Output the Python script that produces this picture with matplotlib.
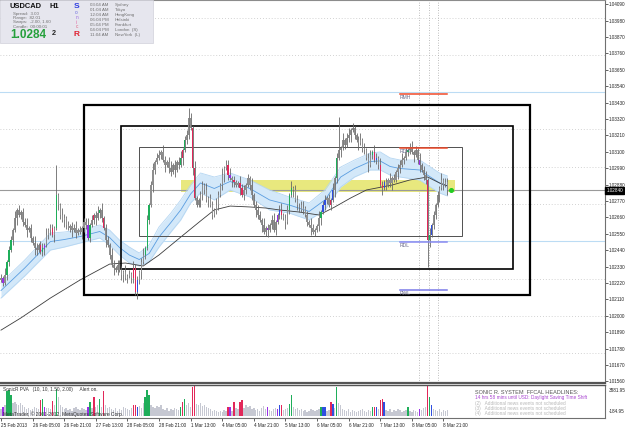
import numpy as np
import matplotlib.pyplot as plt
from matplotlib.patches import Rectangle

plt.rcParams['font.family'] = ['Liberation Sans', 'DejaVu Sans']

# USDCAD H1, 25 Feb 13:00 .. 8 Mar 2013, closes as 1e-5 above 1.0
close_pts = [
    2253, 2220, 2273, 2361, 2441, 2508, 2575, 2656, 2710, 2676,
    2696, 2629, 2609, 2575, 2589, 2522, 2488, 2455, 2441, 2475,
    2428, 2455, 2475, 2542, 2575, 2589, 2542, 2589, 2810, 2743,
    2676, 2643, 2656, 2609, 2589, 2602, 2575, 2589, 2555, 2575,
    2562, 2589, 2629, 2609, 2522, 2609, 2643, 2676, 2656, 2689,
    2710, 2656, 2589, 2508, 2475, 2408, 2341, 2320, 2307, 2341,
    2307, 2273, 2294, 2253, 2267, 2280, 2253, 2320, 2159, 2240,
    2294, 2361, 2408, 2455, 2643, 2743, 2877, 2978, 3032, 3059,
    3079, 3099, 3045, 3012, 3032, 2991, 2965, 3012, 2978, 3032,
    3012, 3059, 3112, 3179, 3213, 3327, 3260, 2991, 2790, 2743,
    2777, 2810, 2877, 2844, 2777, 2790, 2743, 2676, 2710, 2743,
    2810, 2877, 2944, 2991, 3012, 2944, 2924, 2911, 2897, 2877,
    2891, 2857, 2810, 2844, 2877, 2924, 2877, 2810, 2743, 2710,
    2676, 2643, 2609, 2562, 2589, 2575, 2609, 2643, 2575, 2629,
    2676, 2710, 2676, 2656, 2629, 2710, 2810, 2857, 2844, 2777,
    2743, 2743, 2710, 2723, 2676, 2629, 2609, 2589, 2562, 2575,
    2602, 2656, 2696, 2743, 2777, 2790, 2743, 2777, 2844, 2924,
    3059, 3112, 3126, 3179, 3146, 3193, 3213, 3246, 3260, 3213,
    3179, 3159, 3179, 3126, 3112, 3059, 3012, 3079, 3099, 3045,
    3059, 3012, 2877, 2857, 2897, 2877, 2911, 2891, 2924, 2911,
    2965, 2991, 3012, 3045, 3059, 3099, 3112, 3126, 3099, 3079,
    3112, 3045, 3012, 2978, 2944, 2911, 2508, 2542, 2609, 2676,
    2743, 2810, 2857, 2911, 2877, 2897, 2842,
]
first_open = 2240
# wick lengths, units of 15 points
wick_up = ("2131221312" "1223121321" "2213122131" "1321212231" "2122312123"
           "1312213212" "2213121322" "1231212312" "2132123121" "2312212131"
           "1221312213" "2131223121" "1322121312" "2213121231" "1231221312"
           "2123121321" "1312212131" "2213123121" "1231212213" "2132121312"
           "1223121231" "2131221312" "1213122")
wick_dn = ("1312212131" "2213121321" "1231221312" "2132123121" "1322121231"
           "2213121312" "1231212213" "2312121321" "1213122131" "2131221312"
           "1322131212" "2123121321" "1312212213" "2131231212" "1221312131"
           "2312121312" "1231221213" "2131212312" "1312213121" "2213121231"
           "1321212213" "1231221312" "2131212")
spike_hi = {28: 3012, 81: 3112, 95: 3394, 171: 3334}
spike_lo = {1: 2200, 68: 2139, 99: 2730, 216: 2327}

volume = [
    960, 1200, 1440, 3120, 3240, 2640, 1680, 1800, 1560, 1440,
    1680, 1440, 1200, 960, 1080, 840, 960, 1200, 1080, 960,
    2040, 2160, 1200, 1080, 1080, 960, 1920, 1440, 3360, 2400,
    1440, 1200, 960, 1080, 840, 960, 720, 1080, 1200, 960,
    840, 1080, 960, 840, 1200, 1800, 1080, 2400, 1200, 1440,
    2160, 1200, 3120, 1440, 1080, 1200, 960, 840, 1080, 720,
    960, 840, 1200, 1080, 960, 840, 1080, 1440, 1440, 1200,
    1320, 1080, 1680, 2400, 3240, 2640, 1440, 1200, 1080, 1320,
    1200, 1440, 960, 840, 1080, 720, 960, 840, 1080, 960,
    840, 1200, 1800, 2160, 1440, 1680, 1200, 3600, 3720, 1560,
    1440, 1680, 1320, 1440, 1200, 1080, 960, 720, 840, 720,
    600, 720, 600, 840, 720, 1200, 1200, 720, 1800, 1080,
    960, 1800, 2040, 1080, 1440, 1200, 1320, 960, 1080, 840,
    960, 720, 1080, 1320, 960, 1200, 840, 720, 960, 1080,
    960, 1440, 1440, 840, 960, 1080, 1560, 2640, 1200, 960,
    1080, 840, 960, 720, 840, 600, 720, 960, 840, 720,
    840, 960, 1200, 1200, 1200, 720, 840, 1800, 1560, 1080,
    3600, 1680, 1440, 960, 840, 720, 960, 600, 840, 720,
    600, 720, 840, 960, 720, 600, 840, 720, 1200, 1200,
    1200, 960, 2040, 2160, 1800, 840, 720, 960, 600, 840,
    720, 960, 840, 600, 720, 840, 1200, 720, 600, 840,
    720, 600, 960, 840, 1080, 1200, 3840, 2400, 1440, 960,
    840, 720, 960, 600, 840, 720, 840,
]
pva_green = [3, 4, 5, 21, 28, 45, 50, 73, 74, 75, 91, 93, 146, 147, 162, 170, 188, 206, 217]
pva_red = [20, 26, 47, 52, 67, 68, 92, 97, 98, 115, 118, 121, 122, 142, 167, 189, 192, 193, 216]
pva_blue = [69, 141, 163, 164, 168, 190, 194, 218]
pva_purple = [1, 22, 44, 116, 135, 140, 212]

# Sonic R dragon band (EMA34 high / low), sampled
band_idx = [0, 12, 25, 32, 40, 50, 55, 60, 65, 70, 75, 80, 86, 91, 96, 101, 108, 116,
            126, 136, 146, 156, 164, 172, 179, 187, 192, 197, 202, 212, 222, 226]
band_hi = [2220, 2374, 2555, 2562, 2575, 2609, 2575, 2508, 2461, 2421, 2475, 2596, 2689,
           2777, 2877, 2958, 2931, 2958, 2911, 2844, 2797, 2757, 2844, 2998, 3045, 3092,
           3099, 3059, 3045, 3045, 2958, 2938]
band_lo = [2119, 2267, 2441, 2461, 2488, 2522, 2475, 2408, 2354, 2334, 2361, 2461, 2562,
           2643, 2757, 2824, 2777, 2844, 2797, 2710, 2689, 2643, 2710, 2864, 2931, 2978,
           2978, 2944, 2931, 2911, 2824, 2804]
# slow MA
ma_idx = [0, 10, 25, 40, 55, 63, 72, 80, 91, 101, 108, 116, 126, 134, 141, 151, 161,
          169, 177, 185, 198, 207, 216, 222, 226]
ma_val = [1904, 1985, 2119, 2240, 2347, 2354, 2334, 2408, 2528, 2636, 2710, 2736, 2730,
          2723, 2710, 2696, 2676, 2730, 2790, 2844, 2877, 2911, 2931, 2891, 2871]

grid_levels = [1.0400, 1.0375, 1.0325, 1.0300, 1.0275, 1.0225, 1.0200, 1.0175]
round_levels = [1.0350, 1.0250]
zone = (91, 230, 1.02830, 1.02911)
boxes = [(42.0, 267.8, 1.02139, 1.03414, 1.6, 'black'),
         (60.8, 259.2, 1.02314, 1.03273, 1.2, 'black'),
         (69.9, 233.4, 1.02535, 1.03132, 0.7, '#505050')]
levels = [("RMH", 1.03488, '#f04a2a'), ("RDH", 1.03126, '#f04a2a'),
          ("RDL", 1.02495, '#8a8af0'), ("RWL", 1.02173, '#7a7ae8')]
event_idx = [211.5, 216.5, 221.0]

time_labels = ["25 Feb 2013", "26 Feb 05:00", "26 Feb 21:00", "27 Feb 13:00",
               "28 Feb 05:00", "28 Feb 21:00", "1 Mar 13:00", "4 Mar 05:00",
               "4 Mar 21:00", "5 Mar 13:00", "6 Mar 05:00", "6 Mar 21:00",
               "7 Mar 13:00", "8 Mar 05:00", "8 Mar 21:00"]

n = len(close_pts)
idx = np.arange(n)
close = 1 + np.array(close_pts) / 1e5
opn = np.r_[1 + first_open / 1e5, close[:-1]]
up = np.array([int(c) for c in wick_up[:n]]) * 15 / 1e5
dn = np.array([int(c) for c in wick_dn[:n]]) * 15 / 1e5
high = np.maximum(opn, close) + up
low = np.minimum(opn, close) - dn
for k, v in spike_hi.items():
    high[k] = 1 + v / 1e5
for k, v in spike_lo.items():
    low[k] = 1 + v / 1e5

body_col = ['#8e8e8e'] * n
vol_col = ['#c6c8d2'] * n
for lst, c in [(pva_green, '#1fae5a'), (pva_red, '#e2285a'),
               (pva_blue, '#2f4fe0'), (pva_purple, '#9a2ee6')]:
    for k in lst:
        body_col[k] = c
        vol_col[k] = c

fig = plt.figure(figsize=(6.25, 4.29), dpi=100)
ax = fig.add_axes([0, 46 / 429, 605 / 625, 383 / 429])
axv = fig.add_axes([0, 11 / 429, 605 / 625, 33 / 429])
top = fig.add_axes([0, 0, 1, 1], zorder=10)
top.set_xlim(0, 625)
top.set_ylim(429, 0)
top.axis('off')
top.patch.set_alpha(0)

# main panel
ax.set_xlim(-0.5, 305.8)
ax.set_ylim(1.015493, 1.041182)
for p in grid_levels:
    ax.axhline(p, color='#c4c4c4', lw=0.6, ls=(0, (1, 2.5)), zorder=0)
for p in round_levels:
    ax.axhline(p, color='#bcdcf4', lw=0.8, zorder=0)
for e in event_idx:
    ax.axvline(e, color='#a8a8a8', lw=0.6, ls=(0, (1, 2)), zorder=0)

ax.add_patch(Rectangle((zone[0], zone[2]), zone[1] - zone[0], zone[3] - zone[2],
                       facecolor='#e8e87e', edgecolor='none', zorder=1))
ax.axhline(close[-1], color='#9a9a9a', lw=0.8, zorder=1.5)

bi = np.array(band_idx)
bh = 1 + np.array(band_hi) / 1e5
bl = 1 + np.array(band_lo) / 1e5
ax.fill_between(bi, bl, bh, color='#d3e8f9', lw=0, zorder=2)
ax.plot(bi, bh, color='#b5d6f2', lw=0.6, zorder=2)
ax.plot(bi, bl, color='#b5d6f2', lw=0.6, zorder=2)
ax.plot(bi, (bh + bl) / 2, color='#5a9de0', lw=0.6, zorder=2.2)
ax.plot(ma_idx, 1 + np.array(ma_val) / 1e5, color='#3c3c3c', lw=0.6, zorder=3)

for x0, x1, y0, y1, lw, c in boxes:
    ax.add_patch(Rectangle((x0, y0), x1 - x0, y1 - y0, fill=False,
                           edgecolor=c, lw=lw, zorder=4))

ax.vlines(idx, low, high, color='#686868', lw=0.6, zorder=5)
body = np.where(np.abs(close - opn) < 0.00003, 0.00003, close - opn)
ax.bar(idx, body, bottom=opn, width=0.65, color=body_col, lw=0, zorder=6)

for name, p, c in levels:
    ax.plot([202, 226], [p, p], color=c, lw=1.1, zorder=6)
    ax.text(202, p - 0.00008, name, fontsize=3.6, color='#6a6a8a', va='top', zorder=7)

ax.plot(n + 0.8, close[-1], 'o', ms=2.6, color='#22cc22', zorder=7)

ax.yaxis.tick_right()
ticks = np.round(np.arange(1.01560, 1.04091, 0.0011), 5)
ax.set_yticks(ticks)
ax.set_yticklabels([f"{t:.5f}" for t in ticks])
ax.tick_params(axis='y', labelsize=3.3, length=2, width=0.5, pad=1, colors='#222222')
ax.set_xticks([])
ax.spines['left'].set_visible(False)
ax.spines['top'].set_color('#8c8c8c')
ax.spines['top'].set_linewidth(0.8)
ax.spines['right'].set_color('#707070')
ax.spines['right'].set_linewidth(0.8)
ax.spines['bottom'].set_color('#555555')
ax.spines['bottom'].set_linewidth(1.6)
ax.text(1.002, close[-1], "1.02840", transform=ax.get_yaxis_transform(),
        fontsize=3.3, color='white', va='center', ha='left', zorder=8,
        bbox=dict(boxstyle='square,pad=0.2', fc='black', ec='black'))

# volume panel
axv.set_xlim(-0.5, 305.8)
axv.set_ylim(-184.95, 3881.95)
axv.bar(idx, volume[:n], width=0.7, color=vol_col, lw=0)
axv.set_yticks([])
axv.set_xticks(np.arange(len(time_labels)) * 16)
axv.set_xticklabels(time_labels, ha='left')
axv.tick_params(axis='x', labelsize=3.3, length=2, width=0.5, pad=1.5, colors='#222222')
axv.spines['left'].set_visible(False)
axv.spines['top'].set_color('#555555')
axv.spines['top'].set_linewidth(1.0)
axv.spines['right'].set_color('#707070')
axv.spines['right'].set_linewidth(0.8)
axv.spines['bottom'].set_color('#707070')
axv.spines['bottom'].set_linewidth(0.8)
axv.text(1.006, 0.92, "3881.95", transform=axv.transAxes, fontsize=3.3, va='top', color='#222222')
axv.text(1.006, 0.12, "-184.95", transform=axv.transAxes, fontsize=3.3, va='bottom', color='#222222')

# info panel
top.add_patch(Rectangle((0, 0), 153, 43, facecolor='#e6e6ee', edgecolor='#d0d0da', lw=0.5))
top.text(10, 7, "USDCAD", fontsize=5.4, fontweight='bold', va='center', color='#111111')
top.text(49, 7, "H1", fontsize=5.4, fontweight='bold', va='center', color='#111111')
for k, s in enumerate(["Spread:  3.00", "Range:  82.01", "Swaps:  -2.00, 1.60",
                       "Candle:  00:00:01"]):
    top.text(13, 13.5 + 4.5 * k, s, fontsize=3.2, va='center', color='#707070')
top.text(10, 35.5, "1.0284", fontsize=8.5, fontweight='bold', va='center', color='#26a03c')
top.text(52, 33.5, "2", fontsize=5.2, fontweight='bold', va='center', color='#222222')
for s, y, c, fs, w in [("S", 6.5, '#2a3ae0', 6.0, 'bold'), ("o", 13, '#6a6ae0', 3.4, 'normal'),
                       ("n", 17.5, '#9a6ae0', 3.4, 'normal'), ("i", 22.5, '#e060a0', 3.4, 'normal'),
                       ("c", 27, '#e06080', 3.4, 'normal'), ("R", 35, '#e02030', 6.0, 'bold')]:
    top.text(76.5, y, s, fontsize=fs, fontweight=w, ha='center', va='center', color=c)
for k, (t, city) in enumerate([("03:04 AM", "Sydney"), ("01:04 AM", "Tokyo"),
                               ("12:04 AM", "HongKong"), ("06:04 PM", "Helsinki"),
                               ("05:04 PM", "Frankfurt"), ("04:04 PM", "London  (S)"),
                               ("11:04 AM", "NewYork  (L)")]):
    top.text(90, 5.3 + 5 * k, t, fontsize=3.2, va='center', color='#707070')
    top.text(115, 5.3 + 5 * k, city, fontsize=3.2, va='center', color='#707070')

# lower panel texts
top.text(3, 389.5, "SonicR PVA   (10, 10, 1.50, 2.00)     Alert on.", fontsize=3.4,
         va='center', color='#333333')
top.text(3, 414, "MetaTrader, © 2001-2012, MetaQuotes Software Corp.", fontsize=3.5,
         va='center', color='#333333')
top.text(475, 392, "SONIC R. SYSTEM  FFCAL HEADLINES:", fontsize=4.0, va='center',
         color='#555555')
top.text(475, 398, "14 hrs 58 mins until USD: Daylight Saving Time Shift", fontsize=3.4,
         va='center', color='#a844d0')
for k in range(3):
    top.text(475, 403.5 + 5.2 * k, f"({k + 2})   Additional news events not scheduled",
             fontsize=3.4, va='center', color='#b8b8b8')

fig.savefig("out.png", dpi=100, facecolor='white')
